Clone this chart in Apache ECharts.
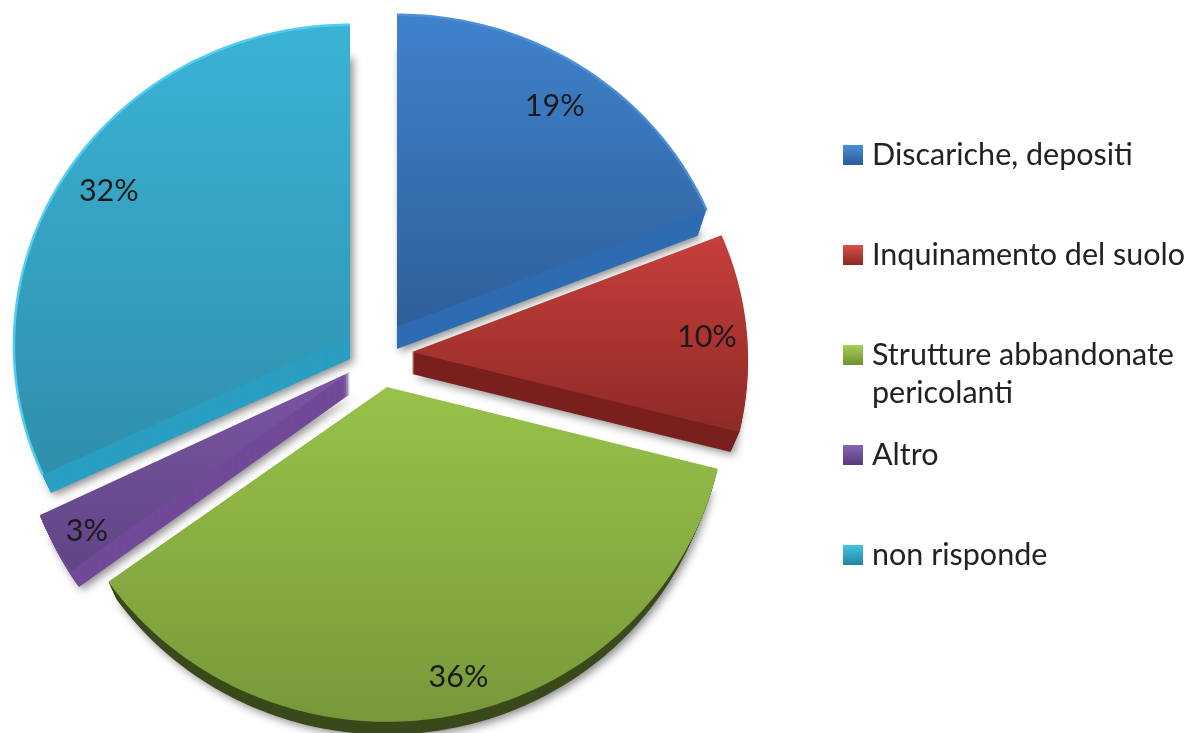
<!DOCTYPE html>
<html>
<head>
<meta charset="utf-8">
<style>
  html, body { margin: 0; background: #fff; }
  #chart { width: 1192px; height: 733px; }
</style>
<script src="https://cdn.jsdelivr.net/npm/echarts@6/dist/echarts.min.js"></script>
</head>
<body>
<div id="chart"></div>
<script>
const categories = ['Discariche, depositi', 'Inquinamento del suolo', 'Strutture abbandonate', 'Altro', 'non risponde']
const values = [19, 10, 36, 3, 32]
const extraLegendLine = 'pericolanti'

// one entry per slice: where the exploded tip sits and how it is painted
const sliceStyles = [
  { tip: [397, 327], scale: [1, 1], top: '#3f82cc', bottom: '#2f5f99', side: '#2e6cb2', rim: '#4b90d8', labelR: 0.85, labelTurn: 0 },
  { tip: [412, 352], scale: [1, 1], top: '#c63f3b', bottom: '#8f2a27', side: '#7a201d', rim: null, labelR: 0.88, labelTurn: 0.5 },
  { tip: [387, 387], scale: [1.01, 1.02], top: '#98c24a', bottom: '#789839', side: '#3b4a1c', rim: null, labelR: 0.895, labelTurn: -2.5 },
  { tip: [350, 372], scale: [1.01, 1.04], top: '#7b56a3', bottom: '#5f4585', side: '#704a98', rim: null, labelR: 0.9, labelTurn: -1 },
  { tip: [350, 337], scale: [1, 1], top: '#3ab3d6', bottom: '#2f8fab', side: '#2a9fc2', rim: '#52cdf0', labelR: 0.86, labelTurn: 0 }
]
const legendCenters = [155, 255, 355, 455, 555]
const legendColors = [
  ['#4a90d8', '#2a5a96'],
  ['#dd4f4a', '#8c2724'],
  ['#a6d052', '#6f8f33'],
  ['#8a62b5', '#553c7a'],
  ['#45c4e4', '#24839f']
]

const RX = 336
const RY = 320
const TILT = 0.025
const DEPTH = 22
const BASE_SHRINK = 0.027
const FONT_FAMILY = 'Lato, "Open Sans", sans-serif'
const FONT = '30.5px ' + FONT_FAMILY

// pie plane -> screen, front of the pie a little larger than the back
function project(s, angle, r) {
  const u = Math.sin(angle) * r
  const v = -Math.cos(angle) * r
  const w = 1 - TILT * v
  return [s.tip[0] + (RX * s.scale[0] * u) / w, s.tip[1] + (RY * s.scale[1] * v) / w]
}

function sliceAngles(i) {
  const total = values.reduce((a, b) => a + b, 0)
  const before = values.slice(0, i).reduce((a, b) => a + b, 0)
  return [(before / total) * Math.PI * 2, ((before + values[i]) / total) * Math.PI * 2]
}

function sliceOutline(s, a0, a1, r) {
  const arc = []
  const steps = Math.max(8, Math.round((a1 - a0) * 60))
  for (let k = 0; k <= steps; k++) {
    arc.push(project(s, a0 + ((a1 - a0) * k) / steps, r))
  }
  return arc
}

function renderSlice(i) {
  const s = sliceStyles[i]
  const [a0, a1] = sliceAngles(i)
  const children = []

  // body of the slice: the base sits lower and, being further away, smaller
  for (let d = DEPTH; d > 0; d--) {
    const r = 1 - (BASE_SHRINK * d) / DEPTH
    const points = [s.tip].concat(sliceOutline(s, a0, a1, r)).map((p) => [p[0], p[1] + d])
    const style = { fill: s.side }
    if (d === DEPTH) {
      style.shadowBlur = 8
      style.shadowColor = 'rgba(0,0,0,0.45)'
      style.shadowOffsetX = 3
      style.shadowOffsetY = 3
    }
    children.push({ type: 'polygon', shape: { points }, style })
  }

  const arc = sliceOutline(s, a0, a1, 1)
  children.push({
    type: 'polygon',
    shape: { points: [s.tip].concat(arc) },
    style: {
      fill: {
        type: 'linear', x: 0, y: 0, x2: 0, y2: 1,
        colorStops: [{ offset: 0, color: s.top }, { offset: 1, color: s.bottom }]
      }
    }
  })
  if (s.rim) {
    children.push({
      type: 'polyline',
      shape: { points: arc },
      style: { stroke: s.rim, lineWidth: 2.5, fill: null }
    })
  }

  const mid = (a0 + a1) / 2 + (s.labelTurn * Math.PI) / 180
  const pos = project(s, mid, s.labelR)
  children.push({
    type: 'text',
    style: {
      text: values[i] + '%', x: pos[0], y: pos[1],
      align: 'center', verticalAlign: 'middle', font: FONT, fill: '#1a1a1a'
    }
  })
  return { type: 'group', children }
}

const chart = echarts.init(document.getElementById('chart'), null, { renderer: 'canvas' })
chart.setOption({
  animation: false,
  backgroundColor: '#fff',
  legend: categories.map((name, i) => ({
    data: [{
      name,
      itemStyle: {
        color: {
          type: 'linear', x: 0, y: 0, x2: 0, y2: 1,
          colorStops: [{ offset: 0, color: legendColors[i][0] }, { offset: 1, color: legendColors[i][1] }]
        }
      }
    }],
    left: 843,
    top: legendCenters[i] - 18,
    padding: 0,
    icon: 'rect',
    itemWidth: 20,
    itemHeight: 20,
    itemGap: 0,
    selectedMode: false,
    textStyle: { fontFamily: FONT_FAMILY, fontSize: 30.5, color: '#222', lineHeight: 36, padding: [0, 0, 0, 4] }
  })),
  graphic: [{
    type: 'text',
    left: 872,
    top: legendCenters[2] + 23,
    style: { text: extraLegendLine, font: FONT, fill: '#222' }
  }],
  series: categories.map((name, i) => ({
    type: 'custom',
    name,
    coordinateSystem: 'none',
    silent: true,
    clip: false,
    data: [values[i]],
    itemStyle: { color: legendColors[i][1] },
    renderItem: () => renderSlice(i)
  }))
})
</script>
</body>
</html>
